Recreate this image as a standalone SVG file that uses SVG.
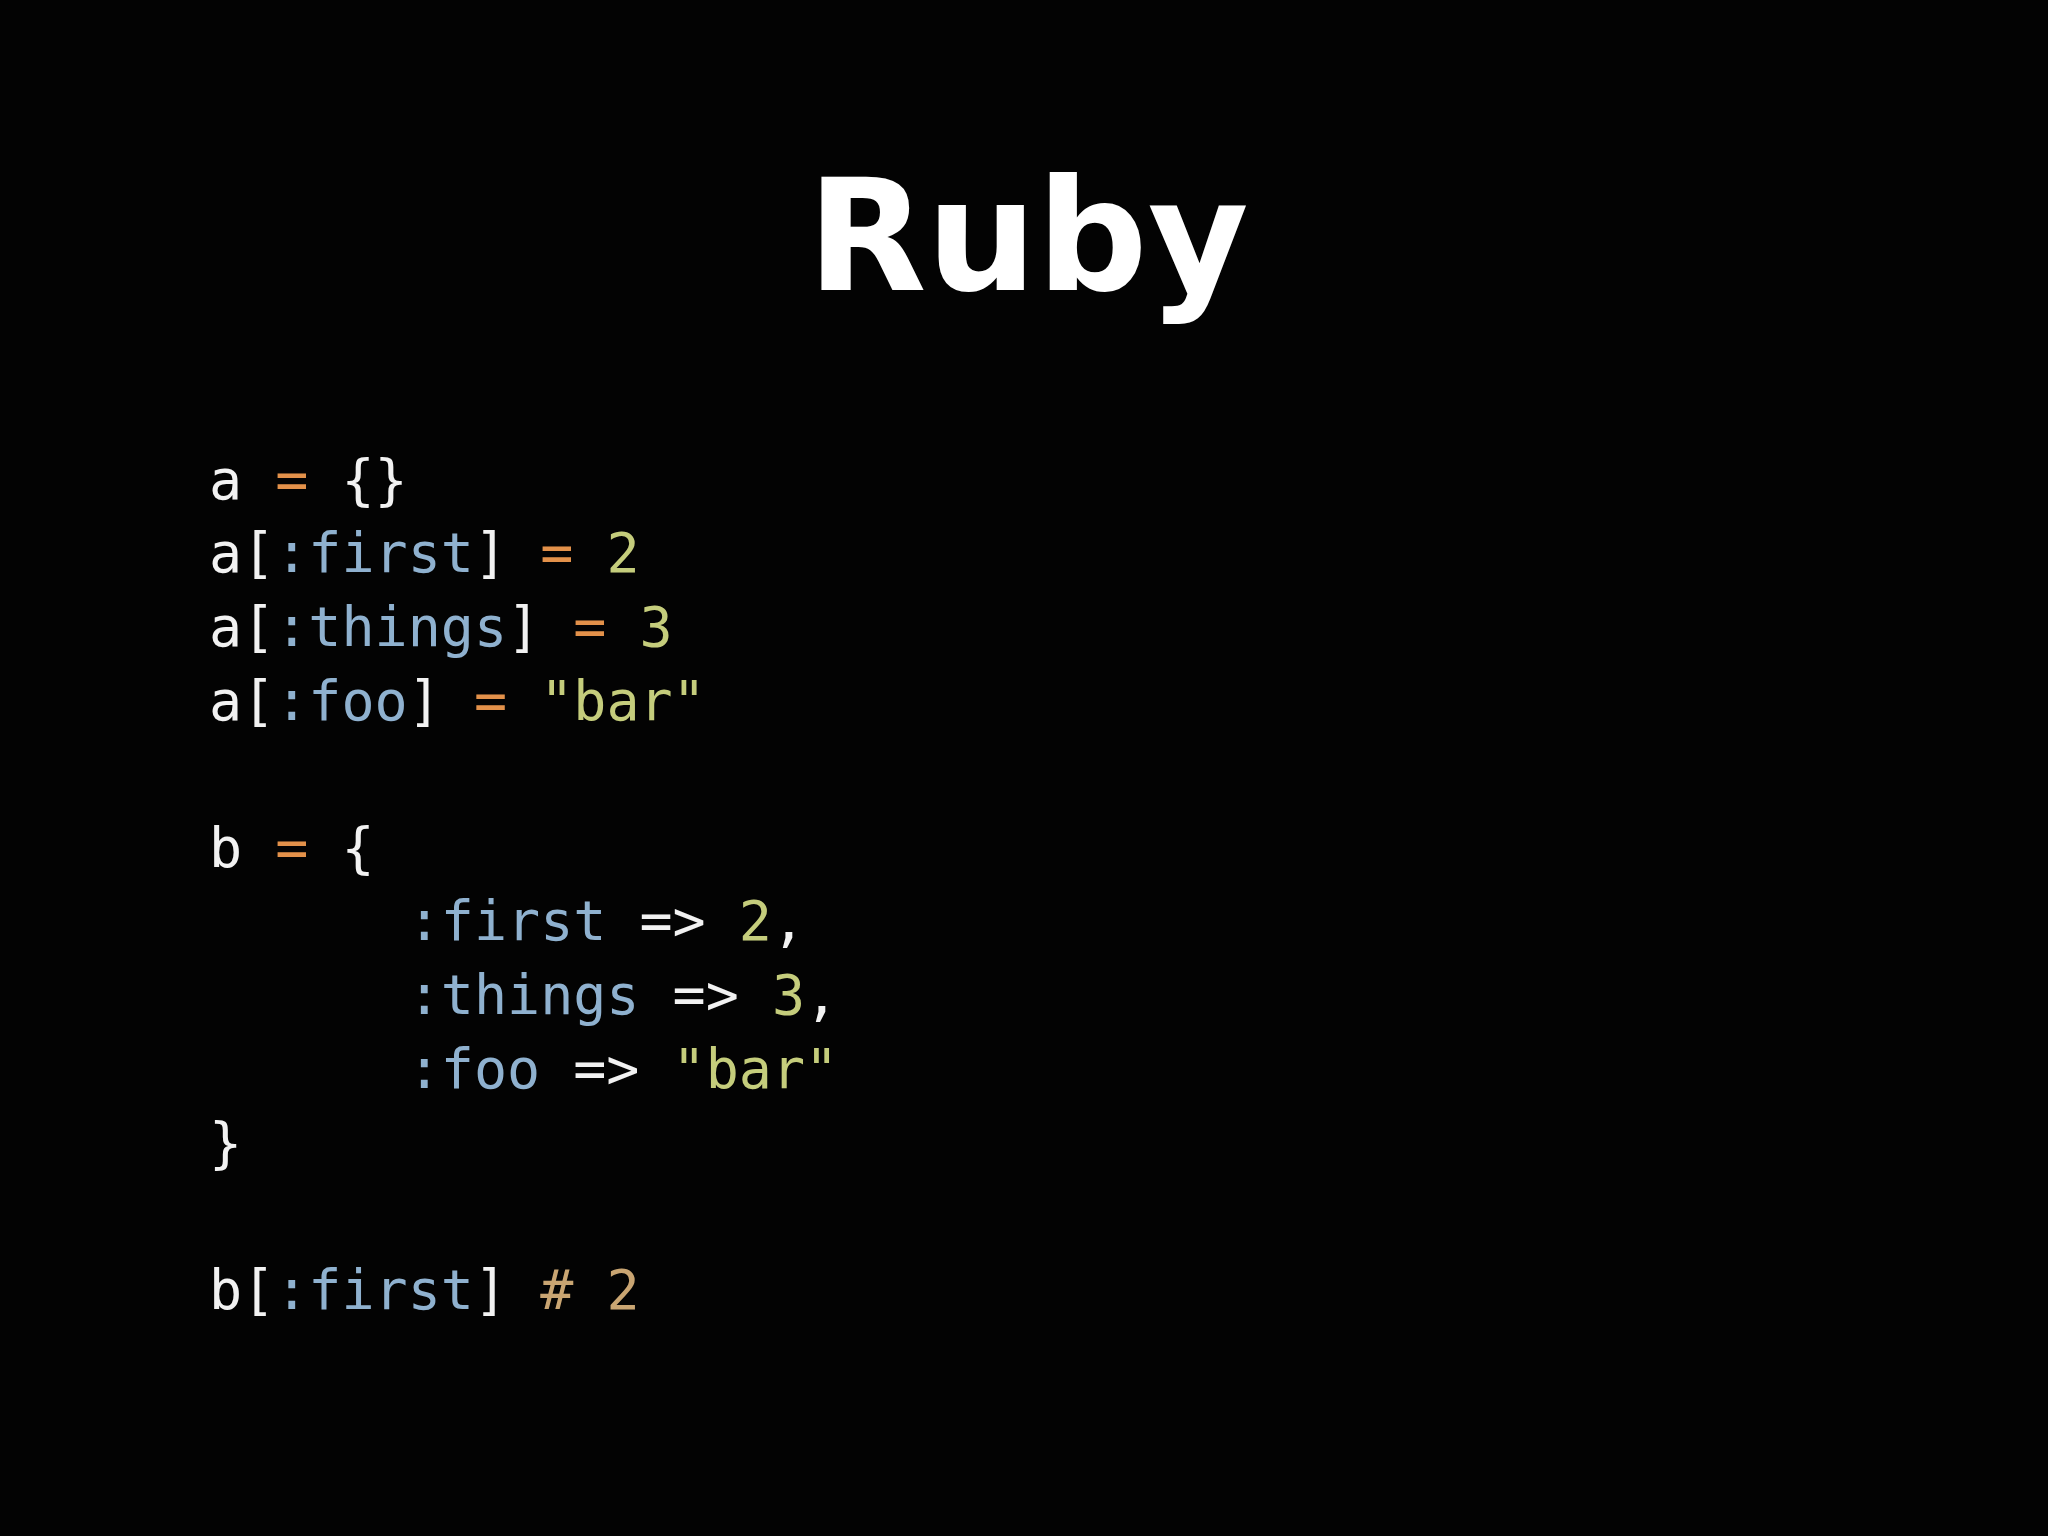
<svg xmlns="http://www.w3.org/2000/svg" width="2048" height="1536" viewBox="0 0 2048 1536">
<style>
.c{font-family:"DejaVu Sans Mono","Liberation Mono",monospace;font-size:55px;fill:#f2f2f2;white-space:pre}
.o{fill:#e3914a}.n{fill:#c5cd7c}.s{fill:#8fb1cf}.k{fill:#c9a572}
</style>
<rect width="2048" height="1536" fill="#030303"/>
<text x="1028" y="290" text-anchor="middle" font-family="DejaVu Sans,Liberation Sans,sans-serif" font-weight="bold" font-size="155" fill="#ffffff">Ruby</text>
<g id="code" xml:space="preserve">
<text class="c" x="209" y="499">a <tspan class="o">=</tspan> {}</text>
<text class="c" x="209" y="572">a[<tspan class="s">:first</tspan>] <tspan class="o">=</tspan> <tspan class="n">2</tspan></text>
<text class="c" x="209" y="646">a[<tspan class="s">:things</tspan>] <tspan class="o">=</tspan> <tspan class="n">3</tspan></text>
<text class="c" x="209" y="720">a[<tspan class="s">:foo</tspan>] <tspan class="o">=</tspan> <tspan class="n">"bar"</tspan></text>
<text class="c" x="209" y="867">b <tspan class="o">=</tspan> {</text>
<text class="c" x="209" y="940">      <tspan class="s">:first</tspan> =&gt; <tspan class="n">2</tspan>,</text>
<text class="c" x="209" y="1014">      <tspan class="s">:things</tspan> =&gt; <tspan class="n">3</tspan>,</text>
<text class="c" x="209" y="1088">      <tspan class="s">:foo</tspan> =&gt; <tspan class="n">"bar"</tspan></text>
<text class="c" x="209" y="1162">}</text>
<text class="c" x="209" y="1309">b[<tspan class="s">:first</tspan>] <tspan class="k"># 2</tspan></text>
</g>
</svg>
